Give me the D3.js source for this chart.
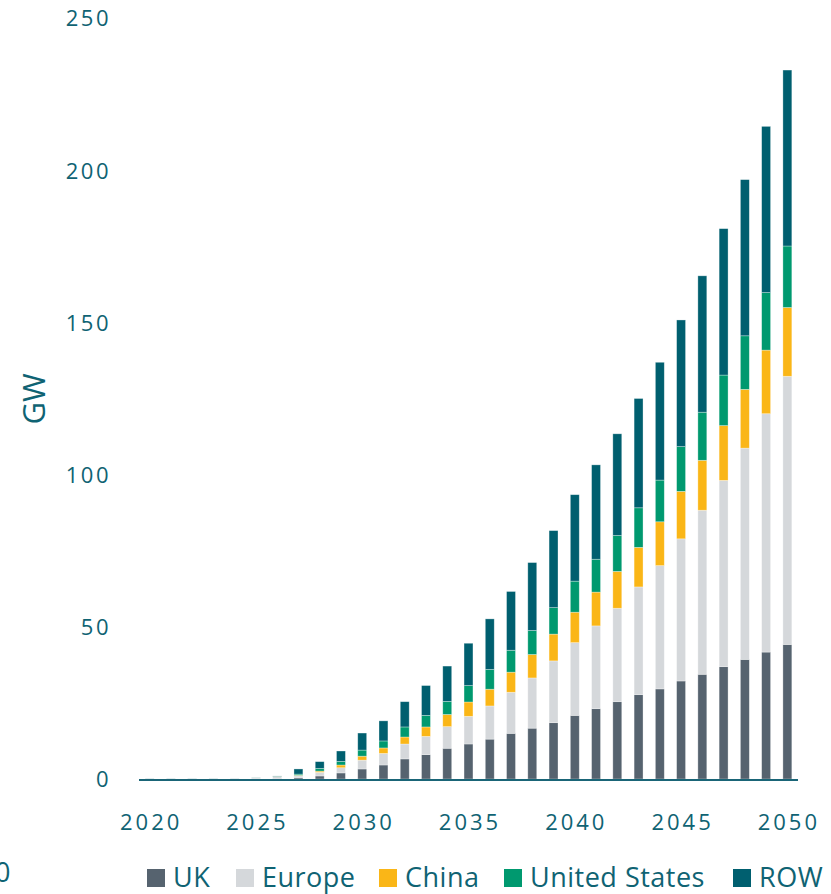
<!DOCTYPE html>
<html>
<head>
<meta charset="utf-8">
<script src="https://cdn.jsdelivr.net/npm/d3@7"></script>
<style>
  html, body { margin: 0; padding: 0; background: #fff; overflow: hidden; }
  svg { display: block; }
</style>
</head>
<body>
<svg id="chart" width="831" height="894"></svg>
<script>
// ---- data ----
const years = d3.range(2020, 2051);
const seriesNames = ["UK", "Europe", "China", "United States", "ROW"];
const ukValues = [0,0,0,0,0,0.05,0.1,0.4,1.0,2.0,3.3,4.6,6.6,8.0,10.1,11.5,13.1,15.0,16.7,18.5,20.9,23.1,25.4,27.7,29.6,32.2,34.4,36.9,39.3,41.7,44.2];
const europeValues = [0.05,0.05,0.05,0.05,0.1,0.35,0.7,0.6,1.2,1.7,2.9,3.8,4.9,6.0,7.1,9.1,10.9,13.5,16.5,20.3,23.9,27.2,30.7,35.4,40.5,46.7,53.9,61.2,69.4,78.3,88.1];
const chinaValues = [0,0,0,0,0,0.02,0.05,0.2,0.4,0.9,1.3,1.8,2.3,3.1,4.0,4.7,5.5,6.6,7.7,8.8,10.0,11.1,12.1,13.0,14.4,15.6,16.4,18.0,19.3,20.9,22.6];
const usValues = [0,0,0,0,0,0.02,0.05,0.4,0.9,1.2,2.0,2.3,3.3,3.8,4.3,5.4,6.5,7.2,7.9,8.7,10.2,10.8,11.8,13.0,13.7,14.7,15.8,16.6,17.6,18.9,20.2];
const rowValues = [0.05,0.05,0.05,0.05,0.05,0.06,0.1,1.7,2.2,3.4,5.6,6.6,8.3,9.8,11.6,13.9,16.6,19.3,22.3,25.3,28.4,31.0,33.4,35.9,38.7,41.6,44.8,48.1,51.3,54.6,57.8];
const yTicks = [0, 50, 100, 150, 200, 250];
const xTicks = [2020, 2025, 2030, 2035, 2040, 2045, 2050];

// ---- styles ----
const colors = ["#56636f", "#d5d8db", "#fab617", "#00996f", "#005f6f"];
const textColor = "#0f6373";
const font = "'Open Sans', 'Noto Sans', sans-serif";
const legendX = [147, 236, 379, 504, 733];

const table = years.map((yr, i) => ({
  year: yr,
  "UK": ukValues[i],
  "Europe": europeValues[i],
  "China": chinaValues[i],
  "United States": usValues[i],
  "ROW": rowValues[i]
}));

const svg = d3.select("#chart");

const x = d3.scaleBand()
  .domain(years)
  .range([139, 798])
  .paddingInner(0.58)
  .paddingOuter(0.29);

const y = d3.scaleLinear().domain([0, 250]).range([779, 18]);

const stacked = d3.stack().keys(seriesNames)(table);

// bars
svg.append("g").selectAll("g.series")
  .data(stacked)
  .join("g")
  .attr("class", "series")
  .attr("fill", (d, i) => colors[i])
  .selectAll("rect")
  .data(d => d)
  .join("rect")
  .attr("x", d => x(d.data.year))
  .attr("width", x.bandwidth())
  .attr("y", d => y(d[1]))
  .attr("height", d => Math.max(0, y(d[0]) - y(d[1])))
  .attr("stroke", "#ffffff")
  .attr("stroke-opacity", 0.45)
  .attr("stroke-width", 0.7);

// baseline
svg.append("line")
  .attr("x1", x.range()[0])
  .attr("x2", x.range()[1])
  .attr("y1", y(0) + 1)
  .attr("y2", y(0) + 1)
  .attr("stroke", "#1a6577")
  .attr("stroke-width", 2);

// y axis
const yAxis = svg.append("g")
  .attr("transform", `translate(${x.range()[0]},0)`)
  .call(d3.axisLeft(y).tickValues(yTicks).tickSize(0).tickPadding(28));
yAxis.select(".domain").remove();
yAxis.selectAll("text")
  .attr("fill", textColor)
  .attr("dy", "0.36em")
  .style("font-family", font)
  .style("font-size", "22px")
  .style("letter-spacing", "2.5px");

// x axis
const xAxis = svg.append("g")
  .attr("transform", `translate(0,${y(0)})`)
  .call(d3.axisBottom(x).tickValues(xTicks).tickSize(0).tickPadding(35));
xAxis.select(".domain").remove();
xAxis.selectAll("text")
  .attr("fill", textColor)
  .attr("dx", "1.5px")
  .style("font-family", font)
  .style("font-size", "22px")
  .style("letter-spacing", "3px");

// y title
svg.append("text")
  .attr("transform", "translate(45,399) rotate(-90)")
  .attr("text-anchor", "middle")
  .attr("fill", textColor)
  .style("font-family", font)
  .style("font-size", "31px")
  .text("GW");

// clipped fragment at bottom-left (cut off in the reference as well)
svg.append("text")
  .attr("x", -5)
  .attr("y", 882)
  .attr("fill", textColor)
  .style("font-family", font)
  .style("font-size", "27px")
  .text("0");

// legend
const legend = svg.append("g");
seriesNames.forEach((name, i) => {
  legend.append("rect")
    .attr("x", legendX[i]).attr("y", 869)
    .attr("width", 18).attr("height", 18)
    .attr("fill", colors[i]);
  legend.append("text")
    .attr("x", legendX[i] + 26).attr("y", 887)
    .attr("fill", textColor)
    .style("font-family", font)
    .style("font-size", "27px")
    .style("letter-spacing", "0.5px")
    .text(name);
});
</script>
</body>
</html>
